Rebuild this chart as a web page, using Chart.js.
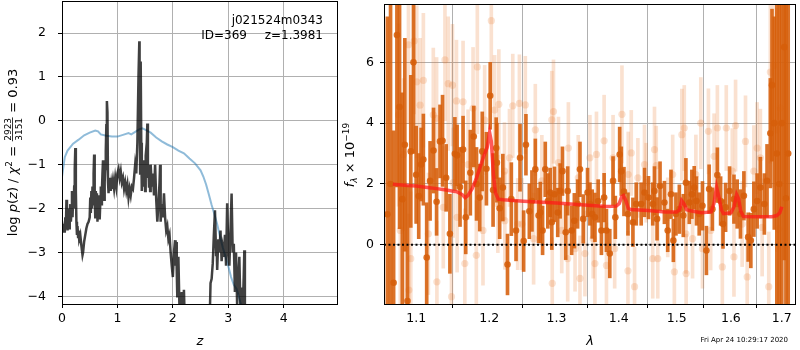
<!DOCTYPE html>
<html>
<head>
<meta charset="utf-8">
<script src="https://cdn.jsdelivr.net/npm/chart.js@4.4.0/dist/chart.umd.min.js"></script>
<style>
  body { margin: 0; background: #fff; width: 800px; height: 350px; overflow: hidden; position: relative; }
  #pz { position: absolute; left: 0; top: 0; }
  #sp { position: absolute; left: 340px; top: 0; }
</style>
</head>
<body>
<canvas id="pz" width="340" height="350"></canvas>
<canvas id="sp" width="460" height="350"></canvas>
<script>
// ---- left panel: log p(z) ----
const zGrid = [0, 0.01, 0.02, 0.03, 0.04, 0.05, 0.06, 0.07, 0.08, 0.09, 0.1, 0.11, 0.12, 0.13, 0.14, 0.15, 0.16, 0.17, 0.18, 0.19,
  0.2, 0.21, 0.22, 0.23, 0.24, 0.25, 0.26, 0.27, 0.28, 0.29, 0.3, 0.31, 0.33, 0.35, 0.37, 0.38, 0.4, 0.42, 0.44, 0.46,
  0.48, 0.5, 0.51, 0.52, 0.53, 0.54, 0.55, 0.56, 0.57, 0.58, 0.59, 0.6, 0.61, 0.62, 0.63, 0.64, 0.65, 0.66, 0.67, 0.68,
  0.69, 0.7, 0.71, 0.72, 0.73, 0.74, 0.75, 0.76, 0.77, 0.78, 0.79, 0.8, 0.81, 0.82, 0.83, 0.84, 0.85, 0.86, 0.87, 0.88,
  0.89, 0.9, 0.92, 0.94, 0.96, 0.98, 1.0, 1.02, 1.04, 1.06, 1.08, 1.1, 1.12, 1.14, 1.16, 1.18, 1.2, 1.22, 1.24, 1.26,
  1.28, 1.3, 1.32, 1.34, 1.36, 1.38, 1.395, 1.4, 1.41, 1.42, 1.43, 1.44, 1.45, 1.46, 1.47, 1.48, 1.49, 1.5, 1.51, 1.53,
  1.54, 1.55, 1.56, 1.57, 1.58, 1.59, 1.6, 1.62, 1.64, 1.66, 1.68, 1.7, 1.72, 1.74, 1.76, 1.77, 1.78, 1.8, 1.82, 1.84,
  1.86, 1.88, 1.9, 1.92, 1.94, 1.96, 1.98, 2.0, 2.02, 2.04, 2.05, 2.06, 2.07, 2.08, 2.09, 2.1, 2.12, 2.14, 2.16, 2.18,
  2.2, 2.22, 2.3, 2.4, 2.5, 2.6, 2.66, 2.68, 2.7, 2.72, 2.74, 2.76, 2.78, 2.79, 2.8, 2.82, 2.84, 2.86, 2.88, 2.9,
  2.92, 2.94, 2.96, 2.98, 3.0, 3.02, 3.04, 3.06, 3.08, 3.1, 3.12, 3.14, 3.16, 3.18, 3.2, 3.22, 3.24, 3.26, 3.28, 3.29,
  3.3, 3.31];
const logPz = [-2.38, -2.55, -2.35, -2.5, -2.42, -2.55, -2.2, -2.45, -1.8, -2.3, -2.5, -2.3, -2.0, -2.45, -2.2, -1.9, -2.3, -2.1, -1.6, -2.2,
  -1.8, -2.0, -1.5, -1.1, -0.62, -1.6, -2.3, -2.6, -2.4, -2.65, -2.5, -2.7, -2.6, -2.85, -3.06, -3.0, -2.75, -2.6, -2.45, -2.35,
  -2.3, -2.2, -1.75, -2.1, -1.6, -2.0, -1.5, -1.9, -1.2, -0.77, -1.7, -2.2, -1.6, -2.0, -1.65, -2.3, -1.8, -2.2, -1.7, -2.25,
  -1.9, -1.5, -1.9, -1.6, -1.2, -0.9, -1.3, -1.8, -1.4, -1.1, -0.7, -0.1, 0.45, 0.2, -1.4, -1.65, -1.4, -1.55, -1.3, -1.6,
  -1.45, -1.55, -1.35, -1.55, -1.3, -1.5, -1.2, -1.1, -1.3, -1.15, -1.4, -1.3, -1.55, -1.4, -1.6, -1.45, -1.75, -1.55, -1.7, -1.5,
  -1.55, -1.3, -1.0, -1.2, -0.5, 1.0, 1.81, 0.8, -1.2, 1.35, -0.5, -1.6, -1.2, -1.5, -0.9, -1.4, -1.0, -1.6, -0.8, -0.5,
  -0.06, -1.3, -1.0, -1.5, -1.1, -1.6, -1.0, -1.5, -1.2, -1.7, -1.0, -1.8, -2.3, -1.9, -1.4, -1.0, -2.3, -1.9, -2.2, -1.65,
  -2.2, -2.5, -2.4, -2.7, -2.6, -3.0, -3.3, -3.56, -3.0, -2.72, -3.3, -2.76, -3.4, -4.0, -3.5, -3.1, -4.3, -4.5, -3.9, -4.6,
  -3.85, -4.8, -6.0, -6.5, -6.2, -5.5, -4.8, -3.7, -3.6, -3.25, -2.6, -2.04, -3.06, -2.8, -3.4, -2.7, -3.0, -2.5, -3.2, -2.9,
  -3.1, -2.6, -3.3, -1.88, -2.9, -3.3, -2.5, -1.66, -3.0, -2.8, -3.9, -3.0, -4.2, -3.6, -3.1, -4.3, -3.8, -4.4, -3.5, -2.95,
  -4.6, -5.0];
const zPrior = [0, 0.05, 0.1, 0.2, 0.3, 0.4, 0.5, 0.6, 0.65, 0.7, 0.8, 0.9, 1.0, 1.1, 1.2, 1.25, 1.3, 1.4, 1.45, 1.5,
  1.6, 1.7, 1.8, 1.9, 2.0, 2.1, 2.2, 2.3, 2.4, 2.5, 2.55, 2.6, 2.65, 2.7, 2.75, 2.8, 2.85, 2.9, 2.95, 3.0,
  3.05, 3.1, 3.15, 3.2, 3.25];
const logPrior = [-1.28, -0.83, -0.68, -0.52, -0.43, -0.33, -0.27, -0.22, -0.24, -0.31, -0.34, -0.36, -0.36, -0.32, -0.28, -0.31, -0.27, -0.19, -0.17, -0.2,
  -0.27, -0.38, -0.47, -0.54, -0.6, -0.68, -0.74, -0.86, -0.97, -1.13, -1.27, -1.45, -1.68, -1.92, -2.13, -2.36, -2.63, -2.88, -3.1, -3.31,
  -3.56, -3.74, -3.83, -4.05, -4.3];
const zTicks = [0, 1, 2, 3, 4];
const pzTicks = [-4, -3, -2, -1, 0, 1, 2];

// ---- right panel: spectrum ----
const darkLam = [1.063, 1.067, 1.0709, 1.0751, 1.0785, 1.082, 1.0853, 1.0887, 1.093, 1.0965,
  1.1, 1.1034, 1.1065, 1.1095, 1.1139, 1.1184, 1.123, 1.1271, 1.1317, 1.1351,
  1.14, 1.1451, 1.1519, 1.155, 1.159, 1.1632, 1.1669, 1.1733, 1.1781, 1.182,
  1.1865, 1.1901, 1.196, 1.2014, 1.2055, 1.21, 1.211, 1.215, 1.2196, 1.2264,
  1.232, 1.2389, 1.2448, 1.2502, 1.2536, 1.2587, 1.2626, 1.2677, 1.2726, 1.2752,
  1.2787, 1.2828, 1.2867, 1.2904, 1.2928, 1.297, 1.302, 1.3057, 1.3093, 1.3144,
  1.3175, 1.3237, 1.328, 1.3331, 1.3369, 1.3421, 1.349, 1.3528, 1.3565, 1.3609,
  1.3662, 1.3715, 1.3759, 1.3797, 1.3852, 1.3906, 1.3944, 1.4016, 1.4043, 1.4088,
  1.4155, 1.4239, 1.4295, 1.438, 1.4437, 1.4505, 1.4579, 1.4609, 1.4654, 1.4706,
  1.4783, 1.4841, 1.4899, 1.4941, 1.4987, 1.5048, 1.5119, 1.5166, 1.5227, 1.5274,
  1.5317, 1.5359, 1.5408, 1.5468, 1.5541, 1.5591, 1.5652, 1.5745, 1.5806, 1.5851,
  1.59, 1.5975, 1.6059, 1.6121, 1.6184, 1.625, 1.6333, 1.6385, 1.6444, 1.6508,
  1.6572, 1.6651, 1.6704, 1.677, 1.6803, 1.6849, 1.69, 1.695, 1.7, 1.705, 1.7084, 1.713];
const darkFlux = [1.0, 2.0, -1.25, 6.9, 4.53, 1.5, 3.29, -1.85, 3.07, 6.0,
  2.3, 1.6, 2.64, 2.8, -0.42, 2.1, 3.1, 1.41, 3.4, 3.42,
  2.2, 0.36, 2.99, 2.94, 1.9, 3.13, 0.9, 2.37, 3.56, 2.0,
  1.55, 3.07, 2.5, 4.9, 1.8, 3.18, 2.7, 1.2, 1.88, -0.65,
  1.5, 0.47, 2.86, 0.12, 3.29, 1.1, 1.44, 2.48, 0.96, 1.06,
  0.47, 2.48, 1.44, 1.72, 0.74, 1.66, 1.06, 1.77, 2.42, 0.41,
  1.77, 0.47, 0.79, 1.34, 2.48, 0.85, 1.72, 1.34, 1.01, 0.9,
  1.44, 0.47, 1.55, 0.47, -0.29, 2.1, 0.9, 2.97, 2.42, 1.75,
  1.01, 0.74, 1.34, 1.34, 1.72, 1.55, 1.34, 1.77, 0.85, 1.93,
  1.39, 0.47, 1.66, 0.14, 1.01, 1.17, 0.96, 2.04, 1.39, 1.66,
  1.88, 1.44, 1.01, 1.28, -0.19, 1.83, 1.17, 2.29, 1.44, 0.68,
  1.23, 1.77, 1.5, 1.34, 1.01, 1.61, 0.25, 0.14, 1.17, 1.44,
  1.88, 1.34, 2.1, 3.67, 5.25, 4.0, 3.0, 2.0, 4.0, 6.5, 1.53, 3.0];
const darkErr = [6.5, 6.0, 5.0, 5.0, 4.0, 3.5, 3.5, 3.8, 2.5, 3.0,
  1.6, 1.4, 1.2, 1.5, 1.8, 1.3, 1.4, 1.1, 1.2, 1.5,
  1.1, 1.3, 1.2, 1.0, 1.3, 1.1, 1.2, 1.4, 1.0, 1.2,
  1.1, 1.3, 1.2, 1.1, 1.2, 1.0, 1.3, 1.0, 1.1, 1.0,
  1.2, 1.0, 1.1, 1.0, 1.0, 0.9, 1.0, 1.0, 0.9, 1.0,
  0.8, 0.9, 0.9, 0.8, 0.9, 0.9, 0.8, 0.9, 0.8, 0.9,
  0.8, 0.8, 0.9, 0.8, 0.9, 0.8, 0.8, 0.7, 0.8, 0.8,
  0.7, 0.8, 0.8, 0.7, 0.8, 0.8, 0.7, 0.9, 0.8, 0.8,
  0.7, 0.8, 0.7, 0.7, 0.8, 0.7, 0.7, 0.8, 0.7, 0.8,
  0.7, 0.7, 0.8, 0.7, 0.7, 0.8, 0.7, 0.8, 0.7, 0.8,
  0.7, 0.8, 0.7, 0.8, 0.8, 0.8, 0.7, 0.9, 0.8, 0.8,
  0.8, 0.8, 0.8, 0.8, 0.8, 0.8, 0.8, 0.9, 0.9, 0.9,
  1.0, 1.0, 1.2, 1.8, 2.5, 3.5, 6.0, 7.0, 6.0, 7.0, 8.0, 7.0];

const lightLam = [1.0772, 1.0794, 1.0836, 1.0858, 1.09, 1.0905, 1.093, 1.0974, 1.1008, 1.1052,
  1.1095, 1.1161, 1.1227, 1.1271, 1.1275, 1.1361, 1.1384, 1.1428, 1.1473, 1.1486,
  1.1496, 1.1541, 1.155, 1.1632, 1.1656, 1.1702, 1.1771, 1.1817, 1.1831, 1.1911,
  1.1935, 1.203, 1.2077, 1.2124, 1.2138, 1.222, 1.2225, 1.2293, 1.2341, 1.2414,
  1.2439, 1.2477, 1.2527, 1.2651, 1.2677, 1.2776, 1.2928, 1.2935, 1.2954, 1.3031,
  1.3082, 1.3175, 1.3186, 1.3291, 1.3342, 1.3369, 1.3448, 1.3528, 1.3581, 1.3609,
  1.3634, 1.3759, 1.3797, 1.3906, 1.3933, 1.4054, 1.4155, 1.416, 1.4211, 1.4267,
  1.4323, 1.4437, 1.4465, 1.4579, 1.4609, 1.464, 1.4666, 1.4841, 1.4929, 1.4959,
  1.5093, 1.5136, 1.5166, 1.517, 1.5287, 1.5347, 1.5437, 1.5468, 1.5578, 1.562,
  1.5684, 1.5745, 1.5838, 1.5913, 1.6027, 1.6059, 1.609, 1.6217, 1.6281, 1.6314,
  1.6444, 1.6508, 1.6572, 1.6607, 1.6738, 1.677, 1.6837, 1.6903, 1.6937, 1.697];
const lightFlux = [4.27, 0.47, 2.97, -0.13, 6.58, -1.49, -0.46, 6.7, 5.36, 4.59,
  5.41, 0.36, 4.27, 4.16, -1.22, 1.23, 6.08, 5.3, -1.71, 5.25,
  2.04, 4.73, 0.9, 4.7, -0.62, 2.64, 4.49, -0.35, 5.85, 0.47,
  4.1, 7.37, 4.43, 1.34, 4.62, 2.42, 0.79, 2.86, 4.57, 0.68,
  4.65, 0.68, 4.6, 0.2, 3.78, 2.1, 4.11, -1.27, 4.38, 2.7,
  0.47, -0.46, 3.18, -0.13, 2.2, -1.11, -0.29, 2.86, 0.2, -0.62,
  2.97, 3.42, -0.68, 2.86, -0.13, 4.29, -0.86, 2.31, 3.02, -1.38,
  2.2, 2.64, 2.04, -0.46, 3.13, 2.6, -0.46, 0.9, 2.31, -0.89,
  3.62, 3.84, 0.36, -0.95, 0.2, 2.31, 4.0, -0.13, 3.73, 0.47,
  2.91, 3.84, -0.73, 3.84, 2.42, -0.4, 3.92, 0.68, 3.4, -1.06,
  2.42, 3.18, 2.86, 0.57, -1.38, 5.68, 5.9, 3.78, 0.52, 4.5];
const lightErr = [3.0, 2.5, 2.5, 2.2, 2.6, 2.5, 2.2, 2.4, 2.5, 2.2,
  2.2, 2.0, 2.2, 2.0, 2.0, 2.0, 2.0, 2.2, 2.0, 2.0,
  1.8, 2.0, 1.8, 2.0, 1.8, 1.8, 2.0, 1.8, 2.2, 1.8,
  1.8, 2.5, 1.8, 1.6, 1.8, 1.6, 1.6, 1.6, 1.7, 1.5,
  1.6, 1.5, 1.6, 1.5, 1.5, 1.5, 1.6, 1.5, 1.7, 1.5,
  1.4, 1.4, 1.5, 1.4, 1.4, 1.4, 1.4, 1.4, 1.3, 1.4,
  1.4, 1.5, 1.4, 1.4, 1.3, 1.6, 1.3, 1.4, 1.4, 1.3,
  1.3, 1.3, 1.3, 1.3, 1.4, 1.3, 1.3, 1.3, 1.3, 1.3,
  1.5, 1.4, 1.3, 1.3, 1.3, 1.3, 1.5, 1.3, 1.4, 1.3,
  1.4, 1.4, 1.3, 1.4, 1.4, 1.3, 1.5, 1.4, 1.5, 1.4,
  1.5, 1.5, 1.6, 1.6, 1.8, 3.0, 4.0, 4.0, 4.0, 5.0];

const modelLam = [1.07, 1.085, 1.1, 1.12, 1.14, 1.155, 1.162, 1.166, 1.17, 1.176,
  1.182, 1.187, 1.192, 1.197, 1.2005, 1.203, 1.206, 1.209, 1.213, 1.22,
  1.25, 1.3, 1.35, 1.38, 1.396, 1.401, 1.405, 1.408, 1.412, 1.416,
  1.42, 1.45, 1.48, 1.5, 1.505, 1.509, 1.513, 1.518, 1.525, 1.545,
  1.563, 1.568, 1.573, 1.577, 1.582, 1.586, 1.6, 1.606, 1.611, 1.615,
  1.619, 1.624, 1.65, 1.68, 1.69, 1.696, 1.7];
const modelFlux = [1.99, 1.96, 1.93, 1.87, 1.8, 1.74, 1.65, 1.55, 1.62, 1.85,
  2.2, 2.55, 2.9, 3.2, 3.7, 3.4, 2.3, 1.7, 1.5, 1.48,
  1.43, 1.37, 1.3, 1.26, 1.27, 1.36, 1.58, 1.62, 1.45, 1.2,
  1.16, 1.13, 1.08, 1.08, 1.15, 1.45, 1.35, 1.15, 1.12, 1.05,
  1.08, 1.35, 1.9, 1.6, 1.15, 1.02, 1.05, 1.25, 1.65, 1.5,
  1.1, 0.93, 0.92, 0.92, 0.96, 1.05, 1.25];
const lamRange = [1.0587, 1.729];
const lamTicks = [1.1, 1.2, 1.3, 1.4, 1.5, 1.6, 1.7];
const fluxTicks = [0, 2, 4, 6];

// ---- helpers ----
const FACE = "'DejaVu Sans'";
const TICK_FONT = { family: "DejaVu Sans", size: 12.5 };
const N = `13px ${FACE}`, I = `italic 13px ${FACE}`, S = `9px ${FACE}`, SI = `italic 9px ${FACE}`;
const minus = (v) => (v < 0 ? "\u2212" + Math.abs(v) : String(v));
const setTicks = (values) => (scale) => { scale.ticks = values.map((v) => ({ value: v })); };
// fixed axis thickness, and no extra room for the end tick labels
const fitX = (h) => (s) => { s.height = h; s.paddingLeft = 0; s.paddingRight = 0; };
const fitY = (w) => (s) => { s.width = w; s.paddingTop = 0; s.paddingBottom = 0; };
const grid = { color: "#b0b0b0", lineWidth: 1, tickColor: "#000", tickLength: 4, tickWidth: 1 };
const xy = (xs, ys) => xs.map((x, i) => ({ x: x, y: ys[i] }));
const errBars = (xs, ys, es) => xs.map((x, i) => ({ x: x, y: [ys[i] - es[i], ys[i] + es[i]] }));

// draws a run of mixed-font text centred on x = 0 (in the current transform)
function drawRuns(ctx, runs) {
  let total = 0;
  runs.forEach((r) => {
    if (r.frac) { ctx.font = S; r.w = Math.max(ctx.measureText(r.frac[0]).width, ctx.measureText(r.frac[1]).width) + 2; }
    else { ctx.font = r[1]; r.w = ctx.measureText(r[0]).width; }
    total += r.w;
  });
  let x = -total / 2;
  runs.forEach((r) => {
    if (r.frac) {
      ctx.font = S;
      ctx.textAlign = "center";
      ctx.fillText(r.frac[0], x + r.w / 2, -5.5);
      ctx.fillText(r.frac[1], x + r.w / 2, 5);
      ctx.fillRect(x + 0.5, -4.4, r.w - 1, 0.8);
      ctx.textAlign = "left";
    } else {
      ctx.font = r[1];
      ctx.fillText(r[0], x, r[2]);
    }
    x += r.w;
  });
}

const frame = {
  id: "frame",
  afterDraw(chart) {
    const { ctx, chartArea: a } = chart;
    ctx.save();
    ctx.strokeStyle = "#000";
    ctx.lineWidth = 1;
    ctx.strokeRect(Math.round(a.left) + 0.5, Math.round(a.top) + 0.5, Math.round(a.right - a.left) - 1, Math.round(a.bottom - a.top));
    ctx.restore();
  },
};

const pzText = {
  id: "pzText",
  afterDraw(chart) {
    const { ctx, chartArea: a } = chart;
    ctx.save();
    ctx.fillStyle = "#000";
    ctx.textBaseline = "alphabetic";
    ctx.font = `12px ${FACE}`;
    ctx.textAlign = "right";
    ctx.fillText("j021524m0343", 323, 24);
    ctx.fillText("ID=369", 247, 39);
    ctx.fillText("z=1.3981", 323, 39);
    ctx.textAlign = "center";
    ctx.font = I;
    ctx.fillText("z", (a.left + a.right) / 2, 345);
    ctx.textAlign = "left";
    ctx.translate(16.5, (a.top + a.bottom) / 2);
    ctx.rotate(-Math.PI / 2);
    drawRuns(ctx, [["log ", N, 0], ["p", I, 0], ["(", N, 0], ["z", I, 0], [")", N, 0], [" / ", N, 0],
      ["\u03c7", I, 0], ["2", S, -5], [" = ", N, 0], { frac: ["2923", "3151"] }, [" = 0.93", N, 0]]);
    ctx.restore();
  },
};

const spText = {
  id: "spText",
  afterDraw(chart) {
    const { ctx, chartArea: a } = chart;
    ctx.save();
    ctx.fillStyle = "#000";
    ctx.textBaseline = "alphabetic";
    ctx.textAlign = "center";
    ctx.font = I;
    ctx.fillText("\u03bb", (a.left + a.right) / 2, 345);
    ctx.font = `7px ${FACE}`;
    ctx.textAlign = "right";
    ctx.fillText("Fri Apr 24 10:29:17 2020", 448, 342);
    ctx.textAlign = "left";
    ctx.translate(13.5, (a.top + a.bottom) / 2 + 1);
    ctx.rotate(-Math.PI / 2);
    drawRuns(ctx, [["f", I, 0], ["\u03bb", SI, 3], [" \u00d7 10", N, 0], ["\u221219", S, -5]]);
    ctx.restore();
  },
};

const common = {
  responsive: false,
  animation: false,
  devicePixelRatio: 1,
  events: [],
  plugins: { legend: { display: false }, tooltip: { enabled: false } },
};

// ---- left chart ----
new Chart(document.getElementById("pz"), {
  type: "scatter",
  data: {
    datasets: [
      { type: "line", data: xy(zGrid, logPz), borderColor: "rgba(0,0,0,0.75)", borderWidth: 2.5, pointRadius: 0, order: 1 },
      { type: "line", data: xy(zPrior, logPrior), borderColor: "rgba(31,119,180,0.5)", borderWidth: 2, pointRadius: 0, order: 2 },
    ],
  },
  options: {
    ...common,
    layout: { padding: { top: 1, right: 2, left: 0, bottom: 0 } },
    scales: {
      x: {
        type: "linear", min: 0, max: 4.98, grid: grid, border: { display: false },
        afterBuildTicks: setTicks(zTicks), afterFit: fitX(46),
        ticks: { font: TICK_FONT, color: "#000", padding: 3, maxRotation: 0, callback: (v) => minus(v) },
      },
      y: {
        type: "linear", min: -4.175, max: 2.73, grid: grid, border: { display: false },
        afterBuildTicks: setTicks(pzTicks), afterFit: fitY(62),
        ticks: { font: TICK_FONT, color: "#000", padding: 12, callback: (v) => minus(v) },
      },
    },
  },
  plugins: [frame, pzText],
});

// ---- right chart ----
const darkColor = "rgba(214,95,10,0.88)";
const lightColor = "rgba(230,120,40,0.22)";
new Chart(document.getElementById("sp"), {
  type: "scatter",
  data: {
    datasets: [
      { type: "bar", data: errBars(lightLam, lightFlux, lightErr), backgroundColor: lightColor, barThickness: 3, stack: "err", borderWidth: 0, order: 6 },
      { type: "scatter", data: xy(lightLam, lightFlux), backgroundColor: lightColor, pointRadius: 3.6, borderWidth: 0, order: 5 },
      { type: "bar", data: errBars(darkLam, darkFlux, darkErr), backgroundColor: darkColor, barThickness: 3, stack: "err", borderWidth: 0, order: 4 },
      { type: "scatter", data: xy(darkLam, darkFlux), backgroundColor: darkColor, pointRadius: 3.3, borderWidth: 0, order: 3 },
      { type: "line", data: xy(modelLam, modelFlux), borderColor: "rgba(255,25,25,0.72)", borderWidth: 3.5, pointRadius: 0, order: 2 },
      { type: "line", data: xy(lamRange, [0, 0]), borderColor: "#000", borderWidth: 2, borderDash: [2, 2.5], pointRadius: 0, order: 1 },
    ],
  },
  options: {
    ...common,
    layout: { padding: { top: 1, right: 1, left: 0, bottom: 0 } },
    scales: {
      x: {
        type: "logarithmic", min: lamRange[0], max: lamRange[1], offset: false, grid: grid, border: { display: false },
        afterBuildTicks: setTicks(lamTicks), afterFit: fitX(46),
        ticks: { font: TICK_FONT, color: "#000", padding: 3, maxRotation: 0, autoSkip: false, callback: (v) => Number(v).toFixed(1) },
      },
      y: {
        type: "linear", min: -1.95, max: 7.92, stacked: false, grid: grid, border: { display: false },
        afterBuildTicks: setTicks(fluxTicks), afterFit: fitY(44),
        ticks: { font: TICK_FONT, color: "#000", padding: 6, callback: (v) => minus(v) },
      },
    },
  },
  plugins: [frame, spText],
});
</script>
</body>
</html>
